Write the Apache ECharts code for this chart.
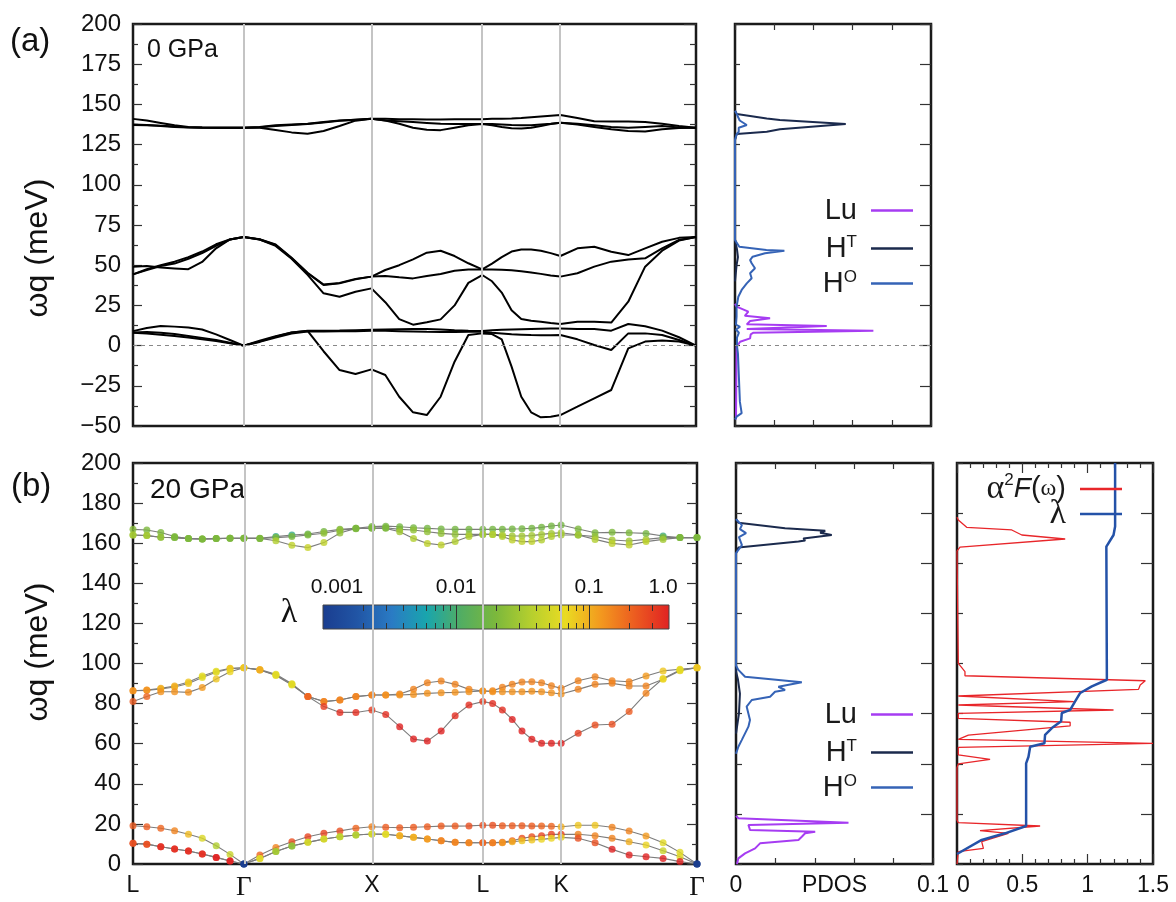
<!DOCTYPE html>
<html lang="en">
<head>
<meta charset="UTF-8">
<title>LuH3 phonons</title>
<script src="https://cdn.jsdelivr.net/npm/echarts@6.0.0/dist/echarts.min.js"></script>
<style>body{margin:0;background:#fff}</style>
</head>
<body>
<div id="main" style="width:1176px;height:902px"></div>
<script type="text/javascript">
// q-path L-G-X-L-K-G, 8 steps per segment
var qPath = [0, 0.108, 0.217, 0.325, 0.433, 0.541, 0.650, 0.758, 0.866,
  0.991, 1.116, 1.241, 1.366, 1.491, 1.616, 1.741, 1.866,
  1.974, 2.083, 2.191, 2.299, 2.407, 2.516, 2.624, 2.732,
  2.809, 2.885, 2.962, 3.038, 3.115, 3.191, 3.268, 3.344,
  3.477, 3.609, 3.742, 3.875, 4.007, 4.140, 4.272, 4.405];
var hsPos = [0, 0.866, 1.866, 2.732, 3.344, 4.405];
var hsLabels = ['L', 'Γ', 'X', 'L', 'K', 'Γ'];

// (a) 0 GPa branches (meV)
var aAc1 = [8.0, 7.5, 6.8, 6.0, 5.0, 4.0, 2.8, 1.5, 0,
  2.5, 5.6, 8.1, 9.1, -3.5, -15.2, -17.7, -14.8,
  -18.3, -31.8, -41.5, -43.2, -31.8, -10.0, 6.6, 7.6,
  7.2, 3.9, -13.1, -31.8, -41.5, -44.6, -44.2, -43.2,
  -38.0, -32.8, -27.6, -1.7, 2.5, 3.1, 2.5, 0];
var aAc2 = [9.0, 11.0, 12.2, 11.8, 11.2, 10.0, 7.0, 3.5, 0,
  3.0, 5.8, 8.2, 9.2, 9.3, 9.4, 9.6, 9.8,
  10.0, 10.2, 10.3, 10.3, 10.0, 9.6, 9.3, 9.1,
  9.5, 9.8, 10.0, 10.2, 10.4, 10.5, 10.6, 10.7,
  10.3, 10.3, 9.3, 13.4, 12.0, 9.3, 5.2, 0];
var aAc3 = [8.2, 8.5, 8.0, 7.2, 6.0, 4.8, 3.5, 1.8, 0,
  2.3, 5.0, 7.5, 8.7, 8.8, 8.9, 9.0, 9.3,
  9.2, 9.0, 8.8, 8.6, 8.5, 8.5, 8.6, 8.6,
  8.0, 7.5, 7.0, 6.8, 6.6, 6.5, 6.5, 6.6,
  3.9, 0.4, -2.7, 7.6, 7.6, 6.6, 3.5, 0];
var aOp1 = [44.3, 47.5, 50.0, 52.2, 55.0, 58.5, 63.0, 66.0, 67.5,
  66.0, 62.6, 54.3, 45.0, 37.7, 38.7, 41.2, 42.9,
  47.0, 50.0, 53.6, 57.8, 59.0, 55.7, 51.2, 47.4,
  51.0, 55.0, 58.5, 59.8, 59.8, 59.0, 57.5, 55.7,
  60.5, 61.5, 58.4, 56.3, 60.5, 64.6, 67.0, 67.5];
var aOp2 = [49.0, 49.5, 48.5, 48.0, 47.5, 52.0, 60.5, 66.0, 67.5,
  66.2, 62.9, 54.6, 45.3, 38.0, 39.0, 41.5, 42.9,
  43.3, 42.5, 41.8, 43.3, 44.5, 46.6, 47.4, 47.4,
  47.3, 47.2, 46.8, 46.2, 45.5, 44.6, 43.6, 42.9,
  45.0, 49.1, 52.2, 53.6, 54.3, 60.5, 65.7, 67.5];
var aOp3 = [44.3, 47.0, 49.5, 51.0, 54.0, 57.5, 62.0, 66.0, 67.5,
  66.0, 62.0, 54.0, 44.0, 32.5, 30.4, 33.5, 35.6,
  27.0, 16.5, 13.0, 14.5, 16.3, 25.0, 39.0, 43.9,
  40.0, 33.0, 22.0, 16.5, 15.5, 14.8, 14.0, 13.4,
  14.9, 14.9, 14.3, 27.3, 49.1, 59.0, 65.3, 67.5];
var aHi1 = [141.0, 140.0, 138.5, 137.0, 136.0, 135.7, 135.5, 135.5, 135.5,
  136.0, 137.0, 137.5, 138.0, 139.0, 140.0, 140.5, 141.0,
  141.0, 140.8, 140.7, 140.6, 140.6, 140.7, 140.7, 140.7,
  141.0, 141.0, 141.2, 141.5, 142.0, 142.5, 143.0, 143.4,
  141.5, 139.5, 139.3, 139.3, 139.0, 138.0, 136.5, 135.5];
var aHi2 = [137.5, 137.2, 136.8, 136.3, 135.8, 135.6, 135.5, 135.5, 135.5,
  135.8, 136.5, 137.2, 137.8, 138.8, 139.8, 140.5, 141.0,
  140.0, 139.5, 139.0, 138.5, 138.0, 137.8, 137.8, 137.8,
  137.8, 137.5, 137.2, 137.0, 137.0, 137.5, 138.0, 138.6,
  138.0, 137.0, 136.0, 135.5, 136.0, 136.5, 135.7, 135.5];
var aHi3 = [137.2, 137.0, 136.5, 136.0, 135.7, 135.5, 135.5, 135.5, 135.5,
  135.5, 134.1, 132.6, 131.8, 133.5, 136.6, 139.9, 141.1,
  140.0, 138.0, 135.5, 134.2, 134.0, 135.5, 137.0, 137.8,
  137.0, 136.0, 135.2, 135.0, 135.5, 136.5, 137.8, 138.6,
  137.5, 136.0, 134.5, 133.5, 133.2, 134.5, 135.3, 135.5];

// (b) 20 GPa branches (meV) and mode lambda
var bAc1 = [19.1, 18.6, 17.8, 16.6, 14.8, 12.8, 9.1, 4.8, 0,
  4.5, 8.2, 11.1, 13.6, 15.3, 16.5, 17.8, 18.6,
  18.3, 18.1, 18.3, 18.6, 18.9, 18.9, 19.0, 19.3,
  19.3, 19.1, 19.1, 19.1, 18.9, 18.9, 18.8, 18.6,
  19.3, 19.3, 18.3, 16.5, 14.0, 10.6, 5.8, 0];
var lamAc1 = [0.22, 0.22, 0.2, 0.15, 0.09, 0.055, 0.035, 0.045, 0.001,
  0.2, 0.15, 0.25, 0.28, 0.28, 0.25, 0.2, 0.15,
  0.22, 0.22, 0.22, 0.22, 0.22, 0.22, 0.25, 0.25,
  0.25, 0.22, 0.22, 0.22, 0.22, 0.2, 0.2, 0.1,
  0.08, 0.08, 0.15, 0.15, 0.12, 0.06, 0.06, 0.001];
var bAc2 = [10.3, 9.9, 8.6, 7.5, 6.5, 5.0, 3.3, 1.5, 0,
  2.8, 6.2, 9.0, 10.8, 12.5, 13.6, 14.5, 15.0,
  14.8, 14.1, 13.3, 12.5, 11.6, 10.8, 10.6, 10.6,
  10.6, 10.9, 11.6, 12.8, 13.6, 14.1, 14.8, 14.8,
  14.8, 14.1, 12.8, 11.1, 9.5, 6.6, 3.6, 0];
var lamAc2 = [0.25, 0.25, 0.35, 0.35, 0.35, 0.35, 0.4, 0.4, 0.001,
  0.06, 0.03, 0.025, 0.05, 0.05, 0.04, 0.035, 0.05,
  0.06, 0.1, 0.1, 0.12, 0.15, 0.15, 0.15, 0.2,
  0.2, 0.2, 0.22, 0.25, 0.25, 0.28, 0.28, 0.28,
  0.15, 0.15, 0.15, 0.1, 0.07, 0.045, 0.06, 0.001];
var bAc3 = [10.3, 9.9, 8.6, 7.5, 6.5, 5.0, 3.3, 1.5, 0,
  2.8, 6.2, 9.0, 10.8, 12.5, 13.6, 14.5, 15.0,
  14.8, 14.1, 13.3, 12.5, 11.6, 10.8, 10.6, 10.6,
  10.6, 10.6, 11.1, 11.6, 12.0, 12.3, 12.8, 13.3,
  12.8, 10.6, 7.3, 4.5, 3.6, 2.8, 1.2, 0];
var lamAc3 = [0.25, 0.25, 0.35, 0.35, 0.35, 0.35, 0.4, 0.4, 0.001,
  0.06, 0.03, 0.025, 0.05, 0.05, 0.04, 0.035, 0.05,
  0.06, 0.1, 0.1, 0.12, 0.15, 0.15, 0.15, 0.2,
  0.15, 0.12, 0.1, 0.08, 0.08, 0.07, 0.07, 0.07,
  0.25, 0.25, 0.4, 0.4, 0.4, 0.4, 0.4, 0.001];
var bOp1 = [86.4, 86.8, 87.6, 88.8, 90.8, 93.8, 96.1, 97.6, 97.9,
  96.8, 94.3, 89.6, 83.5, 81.0, 81.8, 83.5, 84.3,
  84.3, 84.8, 87.1, 90.4, 91.3, 89.6, 87.1, 86.3,
  86.4, 88.1, 89.6, 90.8, 90.9, 90.4, 88.9, 87.6,
  91.4, 93.4, 91.4, 90.9, 93.8, 96.3, 97.1, 97.9];
var lamOp1 = [0.13, 0.13, 0.1, 0.1, 0.08, 0.06, 0.06, 0.08, 0.08,
  0.1, 0.06, 0.06, 0.2, 0.15, 0.15, 0.15, 0.15,
  0.15, 0.15, 0.15, 0.15, 0.15, 0.15, 0.15, 0.15,
  0.15, 0.15, 0.15, 0.15, 0.15, 0.15, 0.15, 0.15,
  0.15, 0.15, 0.15, 0.15, 0.12, 0.08, 0.07, 0.08];
var bOp2 = [86.4, 86.6, 87.3, 88.3, 90.0, 93.0, 95.6, 97.4, 97.9,
  97.0, 94.6, 89.9, 83.5, 81.0, 81.8, 83.5, 84.3,
  84.3, 84.3, 84.6, 85.1, 85.4, 85.6, 85.9, 86.3,
  85.9, 85.9, 85.9, 85.9, 86.1, 85.9, 85.4, 84.8,
  87.1, 89.6, 90.1, 88.8, 88.8, 92.1, 96.4, 97.9];
var lamOp2 = [0.13, 0.13, 0.1, 0.1, 0.08, 0.06, 0.06, 0.08, 0.08,
  0.1, 0.06, 0.06, 0.2, 0.15, 0.15, 0.15, 0.15,
  0.13, 0.13, 0.13, 0.13, 0.13, 0.13, 0.13, 0.13,
  0.13, 0.13, 0.13, 0.13, 0.13, 0.13, 0.13, 0.13,
  0.15, 0.15, 0.15, 0.15, 0.15, 0.07, 0.07, 0.08];
var bOp3 = [81.0, 83.5, 85.9, 85.9, 85.6, 88.0, 92.3, 95.9, 97.9,
  96.8, 94.0, 89.3, 83.5, 78.5, 75.6, 75.6, 76.8,
  74.6, 68.5, 62.3, 61.3, 66.3, 74.0, 79.3, 81.0,
  80.1, 76.8, 72.1, 66.3, 62.2, 60.2, 60.2, 60.2,
  65.2, 69.3, 69.7, 76.0, 85.1, 92.5, 96.8, 97.9];
var lamOp3 = [0.22, 0.2, 0.13, 0.13, 0.13, 0.12, 0.08, 0.07, 0.08,
  0.1, 0.06, 0.06, 0.2, 0.3, 0.35, 0.35, 0.3,
  0.35, 0.4, 0.4, 0.4, 0.4, 0.35, 0.35, 0.3,
  0.35, 0.35, 0.4, 0.4, 0.4, 0.4, 0.4, 0.4,
  0.3, 0.25, 0.25, 0.22, 0.15, 0.07, 0.06, 0.08];
var bHi1 = [166.9, 166.6, 165.3, 163.3, 162.3, 162.1, 162.3, 162.5, 162.5,
  162.5, 163.3, 164.1, 164.6, 165.8, 166.9, 167.4, 168.3,
  168.5, 168.2, 167.7, 167.4, 167.1, 166.9, 166.9, 166.9,
  166.9, 166.9, 167.1, 167.2, 167.4, 167.9, 168.6, 169.1,
  167.1, 165.2, 165.4, 165.2, 164.9, 163.6, 162.8, 162.8];
var lamHi1 = [0.022, 0.02, 0.02, 0.02, 0.02, 0.02, 0.02, 0.02, 0.02,
  0.02, 0.008, 0.008, 0.015, 0.018, 0.02, 0.018, 0.018,
  0.018, 0.018, 0.018, 0.018, 0.018, 0.018, 0.018, 0.018,
  0.018, 0.018, 0.018, 0.018, 0.018, 0.018, 0.018, 0.018,
  0.02, 0.02, 0.02, 0.02, 0.018, 0.009, 0.018, 0.018];
var bHi2 = [164.1, 163.8, 163.0, 162.8, 162.3, 162.1, 162.3, 162.5, 162.5,
  162.4, 162.8, 163.3, 164.1, 165.0, 166.5, 167.2, 167.6,
  167.7, 166.9, 166.6, 165.7, 164.9, 164.4, 164.4, 164.4,
  164.4, 164.1, 163.6, 163.6, 163.8, 164.4, 164.9, 165.2,
  164.1, 163.3, 161.6, 161.1, 161.9, 162.8, 162.8, 162.8];
var lamHi2 = [0.03, 0.03, 0.025, 0.02, 0.02, 0.02, 0.02, 0.02, 0.02,
  0.02, 0.02, 0.02, 0.02, 0.025, 0.025, 0.02, 0.02,
  0.02, 0.02, 0.025, 0.025, 0.025, 0.025, 0.025, 0.025,
  0.03, 0.03, 0.03, 0.03, 0.03, 0.03, 0.03, 0.03,
  0.02, 0.025, 0.03, 0.03, 0.03, 0.02, 0.02, 0.02];
var bHi3 = [164.1, 163.8, 163.0, 162.8, 162.3, 162.1, 162.3, 162.5, 162.5,
  162.4, 161.2, 159.0, 157.8, 160.3, 165.1, 167.4, 167.4,
  167.4, 165.7, 162.4, 159.9, 159.1, 160.8, 163.3, 164.4,
  164.4, 163.3, 161.6, 160.8, 160.8, 161.6, 163.3, 164.1,
  164.1, 161.9, 159.9, 159.1, 160.8, 161.9, 162.8, 162.8];
var lamHi3 = [0.03, 0.03, 0.025, 0.02, 0.02, 0.02, 0.02, 0.02, 0.02,
  0.02, 0.035, 0.04, 0.045, 0.04, 0.025, 0.02, 0.02,
  0.02, 0.03, 0.035, 0.04, 0.04, 0.035, 0.035, 0.03,
  0.035, 0.035, 0.04, 0.04, 0.04, 0.035, 0.035, 0.03,
  0.03, 0.035, 0.04, 0.04, 0.04, 0.03, 0.02, 0.02];

// projected DOS, 0 GPa: energy (meV) / value
var luAE = [-46, -5, -0.7, 2.4, 4.5, 7.0, 8.0, 9.3, 10.3, 11.1, 12.2, 13.2, 15.3, 17.0, 18.5, 21.1, 24.2, 26];
var luAV = [0.0005, 0.0008, 0.0008, 0.0026, 0.0077, 0.008, 0.0094, 0.0706, 0.006, 0.0051, 0.0468, 0.006, 0.0077, 0.0179, 0.005, 0.0068, 0.0008, 0];
var htAE = [40, 50, 55, 60, 66, 128, 131.6, 133.0, 134.5, 137.8, 140.3, 141.3, 144.0, 146];
var htAV = [0, 0.0008, 0.0015, 0.001, 0, 0, 0.0009, 0.0162, 0.0229, 0.0565, 0.0229, 0.0162, 0.0009, 0];
var hoAE = [-46, -44, -42, -35, -20, -5, 0, 5, 8, 10, 11.7, 13, 18, 24.2, 30.4, 34.6, 38.7, 41.9, 45, 48.1,
  51.2, 53.2, 55.3, 57.4, 59, 59.5, 61.5, 65.7, 70, 128, 131.6, 133, 135.5, 137.2, 140, 144, 146];
var hoAV = [0, 0.001, 0.0034, 0.0025, 0.002, 0.0015, 0.001, 0.001, 0.002, 0.0005, 0.0026, 0.0005, 0.0008, 0.0008, 0.0017, 0.0034, 0.006, 0.0085, 0.0077, 0.0102,
  0.0085, 0.0077, 0.009, 0.0153, 0.0252, 0.016, 0.0022, 0, 0, 0, 0.0009, 0.0019, 0.0019, 0.006, 0.0024, 0.0009, 0];

// projected DOS, 20 GPa
var luBE = [0, 2.8, 5.3, 7.8, 10.3, 12.0, 13.6, 15.3, 16.1, 17.0, 19.5, 20.6, 22.8, 24];
var luBV = [0.0005, 0.0012, 0.0046, 0.0097, 0.0122, 0.0317, 0.0334, 0.0351, 0.0402, 0.0071, 0.0063, 0.0571, 0.0012, 0];
var htBE = [65, 75, 85, 92, 96, 155, 157.8, 160.8, 161.3, 162.4, 164.1, 165.2, 166.2, 167.4, 170.2, 172];
var htBV = [0, 0.0015, 0.002, 0.001, 0, 0, 0.0012, 0.0317, 0.0351, 0.0342, 0.0486, 0.0427, 0.0453, 0.0249, 0.0012, 0];
var hoBE = [55, 58.5, 61.8, 68.5, 71.8, 78.5, 81.8, 83.4, 85.9, 86.8, 88.4, 90.6, 93.4, 96.8, 99, 155, 159, 163, 165, 167, 169, 172];
var hoBV = [0, 0.0012, 0.0029, 0.0063, 0.0071, 0.0054, 0.008, 0.0173, 0.0198, 0.0249, 0.0215, 0.0334, 0.0046, 0.0012, 0, 0, 0.003, 0.0015, 0.0051, 0.002, 0.003, 0];

// Eliashberg function and cumulative lambda, 20 GPa
var a2fE = [0, 6.2, 7.8, 11.2, 15.3, 16.6, 18.95, 20.6, 22, 48, 49.9, 52.2, 54.4, 58.2, 60.2, 62.2, 64.3,
  68.9, 70.7, 72.65, 75.1, 76.8, 79.3, 81.0, 83.8, 87.1, 89.3, 91.4, 93.9, 95.9, 100.1, 101,
  156, 158.0, 162.1, 164.1, 166.6, 167.9, 171.6, 173];
var a2fV = [0, 0.01, 0.202, 0.189, 0.393, 0.176, 0.636, 0.01, 0, 0, 0.01, 0.253, 0.01, 0.01, 1.5, 0.01, 0.087,
  0.866, 0.866, 0.01, 0.01, 1.198, 0.01, 0.894, 0.01, 1.389, 1.402, 1.441, 0.061, 0.061, 0.01, 0,
  0, 0.023, 0.828, 0.496, 0.419, 0.074, 0.01, 0];
var lamE = [5, 5.8, 12.0, 15.3, 18.95, 50.2, 53.5, 58.5, 60.2, 64.4, 67.8, 71.2, 75.3, 76.9, 81.1, 85.3, 88.6, 91.9, 158.3, 164.1, 168.3, 200];
var lamV = [0, 0.01, 0.189, 0.368, 0.529, 0.529, 0.547, 0.56, 0.669, 0.674, 0.726, 0.797, 0.802, 0.866, 0.904, 0.943, 1.032, 1.147, 1.143, 1.198, 1.21, 1.21];

// colour bar (log10 lambda)
var cbColors = ['#1a3d8f', '#2155a5', '#2a7bc4', '#19a5ad', '#52ad62', '#7cb83c', '#b5cf2e', '#eadb22', '#f39a1e', '#ec5c20', '#e02222'];
var cbMin = -3, cbMax = -0.4;
var cbLabelPos = [-3, -2, -1, -0.4];
var cbLabels = ['0.001', '0.01', '0.1', '1.0'];

var cbMinor = [];
[0.001, 0.01, 0.1].forEach(function (d) {
  for (var k = 2; k <= 9; k++) {
    if (k * d <= 0.4001) cbMinor.push(Math.log10(k * d));
  }
});

var myChart = echarts.init(document.getElementById('main'));
var ink = '#1a1a1a';
var tickLine = {color: '#333', width: 1.2};

function valAxis(o) {
  var base = {type: 'value', splitLine: {show: false}, axisLine: {show: false, onZero: false},
    axisLabel: {show: false}, axisTick: {show: false}};
  for (var k in o) base[k] = o[k];
  return base;
}
function ticks(len) { return {show: true, inside: true, length: len, lineStyle: tickLine}; }
function minor(n, len) { return {show: true, splitNumber: n, length: len, lineStyle: tickLine}; }
function pairs(xs, ys) { return xs.map(function (x, i) { return [x, ys[i]]; }); }
function flip(es, vs) { return es.map(function (e, i) { return [vs[i], e]; }); }
function minus(v) { return v < 0 ? '\u2212' + (-v) : String(v); }

var frame = {show: true, borderColor: ink, borderWidth: 2.5, backgroundColor: '#fff'};
function grid(l, t, w, h) {
  var g = {left: l, top: t, width: w, height: h};
  for (var k in frame) g[k] = frame[k];
  return g;
}

var grids = [
  grid(133, 24, 563, 402),
  grid(735, 24, 196, 402),
  grid(133, 463, 564, 401),
  grid(736, 463, 197, 401),
  grid(957, 463, 196, 401),
  {left: 323, top: 605, width: 346, height: 24, show: true, z: 5, borderColor: '#444', borderWidth: 1,
    backgroundColor: {type: 'linear', x: 0, y: 0, x2: 1, y2: 0,
      colorStops: cbColors.map(function (c, i) { return {offset: i / (cbColors.length - 1), color: c}; })}}
];

var xAxes = [
  valAxis({gridIndex: 0, min: 0, max: 4.405}),
  valAxis({gridIndex: 1, min: 0, max: 0.1, interval: 0.02, axisTick: ticks(6)}),
  valAxis({gridIndex: 1, position: 'top', min: 0, max: 0.1, interval: 0.02, axisTick: ticks(6)}),
  valAxis({gridIndex: 2, min: 0, max: 4.405,
    axisLabel: {show: true, color: '#111', fontSize: 23, margin: 10, customValues: hsPos,
      formatter: function (v) {
        var s = hsLabels[hsPos.indexOf(v)];
        return s === 'Γ' ? '{g|Γ}' : s;
      },
      rich: {g: {fontFamily: 'Liberation Serif', fontSize: 27, color: '#111'}}}}),
  valAxis({gridIndex: 3, min: 0, max: 0.1, interval: 0.02, axisTick: ticks(6),
    axisLabel: {show: true, color: '#111', fontSize: 23, margin: 10, customValues: [0, 0.05, 0.1],
      formatter: function (v) { return v === 0 ? '0' : (v === 0.1 ? '0.1' : 'PDOS'); }}}),
  valAxis({gridIndex: 3, position: 'top', min: 0, max: 0.1, interval: 0.02, axisTick: ticks(6)}),
  valAxis({gridIndex: 4, min: 0, max: 1.5, interval: 0.5, axisTick: ticks(10), minorTick: minor(5, 5),
    axisLabel: {show: true, color: '#111', fontSize: 23, margin: 10, alignMinLabel: 'left'}}),
  valAxis({gridIndex: 4, position: 'top', min: 0, max: 1.5, interval: 0.5, axisTick: ticks(10), minorTick: minor(5, 5)}),
  valAxis({gridIndex: 5, min: cbMin, max: cbMax, z: 6,
    axisTick: {show: true, inside: true, length: 6, customValues: cbMinor, lineStyle: {color: '#333', width: 1}}}),
  valAxis({gridIndex: 5, position: 'top', min: cbMin, max: cbMax, z: 6,
    axisTick: {show: true, inside: true, length: 6, customValues: cbMinor, lineStyle: {color: '#333', width: 1}},
    axisLabel: {show: true, color: '#111', fontSize: 21, margin: 7, customValues: cbLabelPos,
      formatter: function (v) {
        var i = cbLabelPos.indexOf(v);
        if (i === 0) return '{a|' + cbLabels[i] + '}';
        if (i === cbLabels.length - 1) return '{b|' + cbLabels[i] + '}';
        return cbLabels[i];
      },
      rich: {a: {fontSize: 21, color: '#111', padding: [0, 0, 0, 28]}, b: {fontSize: 21, color: '#111', padding: [0, 12, 0, 0]}}}})
];

var yAxes = [
  valAxis({gridIndex: 0, min: -50, max: 200, interval: 25, axisTick: ticks(9), minorTick: minor(2, 5),
    axisLabel: {show: true, color: '#111', fontSize: 24, margin: 12, formatter: minus}}),
  valAxis({gridIndex: 0, position: 'right', min: -50, max: 200, interval: 25, axisTick: ticks(12), minorTick: minor(2, 6)}),
  valAxis({gridIndex: 1, min: -50, max: 200, interval: 25, axisTick: ticks(5)}),
  valAxis({gridIndex: 1, position: 'right', min: -50, max: 200, interval: 25, axisTick: ticks(11)}),
  valAxis({gridIndex: 2, min: 0, max: 200, interval: 20, axisTick: ticks(10), minorTick: minor(2, 5),
    axisLabel: {show: true, color: '#111', fontSize: 24, margin: 12}}),
  valAxis({gridIndex: 2, position: 'right', min: 0, max: 200, interval: 20, axisTick: ticks(10), minorTick: minor(2, 5)}),
  valAxis({gridIndex: 3, min: 0, max: 200, interval: 25, axisTick: ticks(6)}),
  valAxis({gridIndex: 3, position: 'right', min: 0, max: 200, interval: 25, axisTick: ticks(12)}),
  valAxis({gridIndex: 4, min: 0, max: 200, interval: 25, axisTick: ticks(6)}),
  valAxis({gridIndex: 4, position: 'right', min: 0, max: 200, interval: 25, axisTick: ticks(12)}),
  valAxis({gridIndex: 5, min: 0, max: 1})
];

var series = [];
function guideLines(xi, yi, withZero) {
  var d = hsPos.slice(1, 5).map(function (x) {
    return {xAxis: x, lineStyle: {color: '#c4c4c4', width: 2, type: 'solid'}};
  });
  if (withZero) d.push({yAxis: 0, lineStyle: {color: '#888', width: 1, type: [4, 4]}});
  series.push({type: 'line', xAxisIndex: xi, yAxisIndex: yi, data: [], z: 1, silent: true,
    markLine: {symbol: 'none', silent: true, label: {show: false}, data: d}});
}
function zeroLine(xi, yi) {
  series.push({type: 'line', xAxisIndex: xi, yAxisIndex: yi, data: [], z: 1, silent: true,
    markLine: {symbol: 'none', silent: true, label: {show: false},
      data: [{yAxis: 0, lineStyle: {color: '#888', width: 1, type: [4, 4]}}]}});
}
function curve(name, color, width, data, xi, yi) {
  series.push({type: 'line', name: name, xAxisIndex: xi, yAxisIndex: yi, data: data, symbol: 'none',
    color: color, lineStyle: {color: color, width: width}, z: 2, silent: true});
}

// (a) band structure
guideLines(0, 0, true);
[aAc1, aAc2, aAc3, aOp1, aOp2, aOp3, aHi1, aHi2, aHi3].forEach(function (b) {
  curve(null, '#000', 2, pairs(qPath, b), 0, 0);
});
// (a) PDOS
zeroLine(1, 2);
curve('Lu', '#a63cf2', 2, flip(luAE, luAV), 1, 2);
curve('HT', '#1b2a4d', 2, flip(htAE, htAV), 1, 2);
curve('HO', '#3563b6', 2, flip(hoAE, hoAV), 1, 2);

// (b) band structure with lambda-coloured points
guideLines(3, 4, false);
var bBands = [bAc1, bAc2, bAc3, bOp1, bOp2, bOp3, bHi1, bHi2, bHi3];
var bLams = [lamAc1, lamAc2, lamAc3, lamOp1, lamOp2, lamOp3, lamHi1, lamHi2, lamHi3];
bBands.forEach(function (b) { curve(null, '#7d7d7d', 1.1, pairs(qPath, b), 3, 4); });
var pts = [];
bBands.forEach(function (b, j) {
  qPath.forEach(function (q, i) { pts.push([q, b[i], Math.log10(bLams[j][i])]); });
});
var scatterIndex = series.length;
series.push({type: 'scatter', xAxisIndex: 3, yAxisIndex: 4, data: pts, symbolSize: 7, z: 3, silent: true});

// (b) PDOS
curve('Lu', '#a63cf2', 2, flip(luBE, luBV), 4, 6);
curve('HT', '#1b2a4d', 2, flip(htBE, htBV), 4, 6);
curve('HO', '#3563b6', 2, flip(hoBE, hoBV), 4, 6);

// (b) a2F and lambda
curve('a2F', '#e8262a', 1.3, flip(a2fE, a2fV), 6, 8);
curve('lam', '#2452a8', 2.5, flip(lamE, lamV), 6, 8);

// colour bar decade marks
series.push({type: 'line', xAxisIndex: 8, yAxisIndex: 10, data: [], z: 7, silent: true,
  markLine: {symbol: 'none', silent: true, label: {show: false},
    data: [{xAxis: -2}, {xAxis: -1}], lineStyle: {color: '#333', width: 1, type: 'solid'}}});

var legendText = {
  Lu: 'Lu', HT: 'H{s|T}', HO: 'H{s|O}',
  a2F: '{g|α}{s|2}{i|F}({w|ω})', lam: '{g|λ}'
};
function legendItem(name, right, lineY) {
  return {data: [name], right: right, top: lineY - 15, padding: 0, orient: 'vertical', align: 'right',
    icon: 'rect', itemWidth: 42, itemHeight: 2.5, selectedMode: false,
    formatter: function (n) { return legendText[n]; },
    textStyle: {fontSize: 29, color: ink, padding: [0, 9, 0, 0],
      rich: {s: {fontSize: 17, verticalAlign: 'top', color: ink},
        g: {fontFamily: 'Liberation Serif', fontSize: 34, color: ink},
        i: {fontStyle: 'italic', fontSize: 28, color: ink},
        w: {fontFamily: 'Liberation Serif', fontSize: 24, color: ink}}}};
}
var legends = [
  legendItem('Lu', 263, 211), legendItem('HT', 263, 249), legendItem('HO', 263, 284),
  legendItem('Lu', 263, 715), legendItem('HT', 263, 753), legendItem('HO', 263, 788),
  legendItem('a2F', 54, 487), legendItem('lam', 54, 512)
];

function label(text, x, y, size) {
  return {type: 'text', x: x, y: y, silent: true,
    style: {text: text, font: size + 'px "Liberation Sans"', fill: '#111', textAlign: 'left', textVerticalAlign: 'middle'}};
}
var graphics = [
  label('(a)', 10, 42, 33),
  label('(b)', 11, 487, 33),
  label('0 GPa', 147, 50, 25),
  label('20 GPa', 150, 490, 28),
  {type: 'text', x: 289, y: 613, silent: true,
    style: {text: 'λ', font: '34px "Liberation Serif"', fill: '#111', textAlign: 'center', textVerticalAlign: 'middle'}},
  {type: 'text', x: 38, y: 248, rotation: Math.PI / 2, silent: true,
    style: {text: 'ωq (meV)', font: '32px "Liberation Sans"', fill: '#111', textAlign: 'center', textVerticalAlign: 'middle'}},
  {type: 'text', x: 38, y: 652, rotation: Math.PI / 2, silent: true,
    style: {text: 'ωq (meV)', font: '32px "Liberation Sans"', fill: '#111', textAlign: 'center', textVerticalAlign: 'middle'}}
];

var option = {
  animation: false,
  backgroundColor: '#fff',
  textStyle: {fontFamily: 'Liberation Sans'},
  grid: grids,
  xAxis: xAxes,
  yAxis: yAxes,
  legend: legends,
  visualMap: {type: 'continuous', show: false, seriesIndex: scatterIndex, dimension: 2,
    min: cbMin, max: cbMax, inRange: {color: cbColors}},
  graphic: graphics,
  series: series
};
myChart.setOption(option);
</script>
</body>
</html>
